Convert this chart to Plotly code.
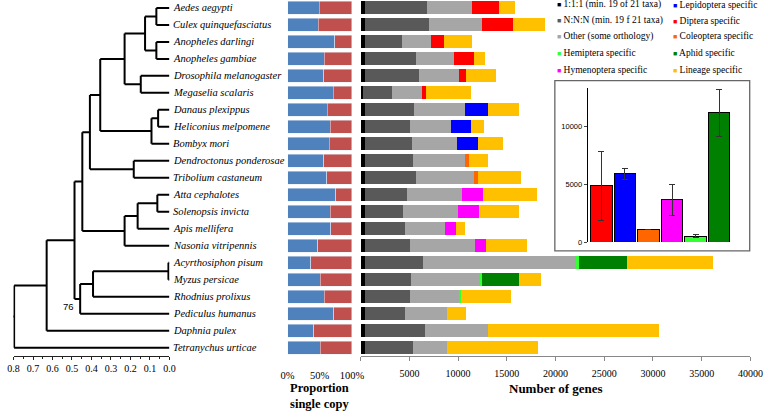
import plotly.graph_objects as go

W, H = 778, 413
def px(x): return x / W
def py(y): return 1 - y / H

species = ["Aedes aegypti", "Culex quinquefasciatus", "Anopheles darlingi", "Anopheles gambiae",
           "Drosophila melanogaster", "Megaselia scalaris", "Danaus plexippus", "Heliconius melpomene",
           "Bombyx mori", "Dendroctonus ponderosae", "Tribolium castaneum", "Atta cephalotes",
           "Solenopsis invicta", "Apis mellifera", "Nasonia vitripennis", "Acyrthosiphon pisum",
           "Myzus persicae", "Rhodnius prolixus", "Pediculus humanus", "Daphnia pulex",
           "Tetranychus urticae"]

# proportion single copy (blue part)
prop_single = [0.49, 0.48, 0.73, 0.57, 0.56, 0.71, 0.62, 0.66, 0.65, 0.56, 0.61,
               0.75, 0.66, 0.67, 0.47, 0.36, 0.51, 0.57, 0.72, 0.41, 0.51]

# gene counts per category
one2one    = [450, 450, 400, 450, 450, 230, 450, 450, 450, 450, 450, 450, 450, 450, 450, 450, 450, 450, 450, 450, 450]
nnn        = [6320, 6520, 3800, 5180, 5550, 2940, 5050, 4620, 4850, 4920, 5280, 4350, 3850, 4120, 4650, 5950, 4750, 4580, 4120, 6120, 4880]
other      = [4700, 5530, 3000, 3970, 4070, 3100, 5230, 4200, 4630, 5300, 5870, 5600, 5670, 4130, 6600, 15700, 7100, 5070, 4330, 6530, 3500]
lepidoptera= [0, 0, 0, 0, 0, 0, 2300, 2030, 2100, 0, 0, 0, 0, 0, 0, 0, 0, 0, 0, 0, 0]
diptera    = [2760, 3170, 1400, 2030, 760, 460, 0, 0, 0, 0, 0, 0, 0, 0, 0, 0, 0, 0, 0, 0, 0]
coleoptera = [0, 0, 0, 0, 0, 0, 0, 0, 0, 430, 400, 0, 0, 0, 0, 0, 0, 0, 0, 0, 0]
hymenoptera= [0, 0, 0, 0, 0, 0, 0, 0, 0, 0, 0, 2130, 2160, 1100, 1200, 0, 0, 0, 0, 0, 0]
hemiptera  = [0, 0, 0, 0, 0, 0, 0, 0, 0, 0, 0, 0, 0, 0, 0, 270, 170, 200, 0, 0, 0]
aphid      = [0, 0, 0, 0, 0, 0, 0, 0, 0, 0, 0, 0, 0, 0, 0, 4960, 3800, 0, 0, 0, 0]
lineage    = [1570, 3300, 2800, 1170, 3070, 4600, 3240, 1370, 2570, 1970, 4500, 5540, 4070, 870, 4170, 8870, 2260, 5100, 1870, 17500, 9370]

gene_ticks = [0, 5000, 10000, 15000, 20000, 25000, 30000, 35000, 40000]
tree_ticks = [0.8, 0.7, 0.6, 0.5, 0.4, 0.3, 0.2, 0.1, 0.0]
inset_ticks = [0, 5000, 10000]

# inset: mean and error of lineage-group specific genes
inset_groups = ["Diptera", "Lepidoptera", "Coleoptera", "Hymenoptera", "Hemiptera", "Aphid"]
inset_mean = [4850, 5900, 1085, 3650, 490, 11200]
inset_err  = [2970, 450, 0, 1350, 130, 2030]
inset_colors = ["#FF0000", "#0000FF", "#FF6600", "#FF00FF", "#33FF33", "#008000"]

# tree: internal nodes (name, height, children)
clades = [
    ("AeCu", 0.067, ["Aedes aegypti", "Culex quinquefasciatus"]),
    ("Anoph", 0.067, ["Anopheles darlingi", "Anopheles gambiae"]),
    ("Culicidae", 0.125, ["AeCu", "Anoph"]),
    ("DrMe", 0.147, ["Drosophila melanogaster", "Megaselia scalaris"]),
    ("Diptera", 0.23, ["Culicidae", "DrMe"]),
    ("DaHe", 0.058, ["Danaus plexippus", "Heliconius melpomene"]),
    ("Lepidoptera", 0.092, ["DaHe", "Bombyx mori"]),
    ("Antliophora", 0.355, ["Diptera", "Lepidoptera"]),
    ("Coleoptera", 0.183, ["Dendroctonus ponderosae", "Tribolium castaneum"]),
    ("DLC", 0.408, ["Antliophora", "Coleoptera"]),
    ("AtSo", 0.062, ["Atta cephalotes", "Solenopsis invicta"]),
    ("Apoidea", 0.163, ["AtSo", "Apis mellifera"]),
    ("Hymenoptera", 0.23, ["Apoidea", "Nasonia vitripennis"]),
    ("Holometabola", 0.447, ["DLC", "Hymenoptera"]),
    ("Aphid", 0.005, ["Acyrthosiphon pisum", "Myzus persicae"]),
    ("Hemiptera", 0.392, ["Aphid", "Rhodnius prolixus"]),
    ("Paraneoptera", 0.458, ["Hemiptera", "Pediculus humanus"]),
    ("Insecta", 0.487, ["Holometabola", "Paraneoptera"]),
    ("Pancrustacea", 0.63, ["Insecta", "Daphnia pulex"]),
    ("Root", 0.797, ["Pancrustacea", "Tetranychus urticae"]),
]
root_stub = 0.823
bootstrap = [("Paraneoptera", "76")]

# ---- compute tree geometry
pos = {s: (0.0, i) for i, s in enumerate(species)}
for name, h, ch in clades:
    ys = [pos[c][1] for c in ch]
    pos[name] = (h, (min(ys) + max(ys)) / 2)
tx, ty = [], []
for name, h, ch in clades:
    ys = [pos[c][1] for c in ch]
    tx += [h, h, None]; ty += [min(ys), max(ys), None]
    for c in ch:
        tx += [h, pos[c][0], None]; ty += [pos[c][1], pos[c][1], None]
rh, ry = pos["Root"]
tx += [rh, root_stub]; ty += [ry, ry]

fig = go.Figure()
fig.add_trace(go.Scatter(x=tx, y=ty, mode="lines", line=dict(color="black", width=2),
                         xaxis="x", yaxis="y", cliponaxis=False, hoverinfo="skip", showlegend=False))

idx = list(range(len(species)))
BW = 0.76
fig.add_trace(go.Bar(y=idx, x=prop_single, orientation="h", width=BW, marker_color="#4F81BD",
                     xaxis="x2", yaxis="y", showlegend=False, name="single copy"))
fig.add_trace(go.Bar(y=idx, x=[1 - p for p in prop_single], orientation="h", width=BW, marker_color="#C0504D",
                     xaxis="x2", yaxis="y", showlegend=False, name="multi copy"))

cats = [
    ("1:1:1 (min. 19 of 21 taxa)", one2one, "#000000"),
    ("N:N:N (min. 19 f 21 taxa)", nnn, "#595959"),
    ("Other (some orthology)", other, "#A6A6A6"),
    ("Lepidoptera specific", lepidoptera, "#0000FF"),
    ("Diptera specific", diptera, "#FF0000"),
    ("Coleoptera specific", coleoptera, "#FF6600"),
    ("Hymenoptera specific", hymenoptera, "#FF00FF"),
    ("Hemiptera specific", hemiptera, "#33FF33"),
    ("Aphid specific", aphid, "#008000"),
    ("Lineage specific", lineage, "#FFC000"),
]
for nm, vals, col in cats:
    fig.add_trace(go.Bar(y=idx, x=vals, orientation="h", width=BW, marker=dict(color=col, line=dict(width=0)),
                         xaxis="x3", yaxis="y", showlegend=False, name=nm))

fig.add_trace(go.Bar(x=inset_groups, y=inset_mean, width=0.91,
                     marker=dict(color=inset_colors, line=dict(color="black", width=1)),
                     error_y=dict(type="data", array=inset_err, color="#333333", thickness=1, width=3),
                     xaxis="x4", yaxis="y4", showlegend=False))

ydom = [py(360.6), 1]
fig.update_layout(
    width=W, height=H, margin=dict(l=0, r=0, t=0, b=0),
    paper_bgcolor="white", plot_bgcolor="rgba(0,0,0,0)",
    barmode="stack", showlegend=False,
    font=dict(family="Liberation Serif", color="black", size=10),
    yaxis=dict(domain=ydom, range=[20.5, -0.465], visible=False),
    xaxis=dict(domain=[px(6.7), px(166.7)], range=[0.8, 0.0], anchor="y",
               showline=True, linecolor="#222", linewidth=1, ticks="outside", ticklen=3, tickcolor="#222",
               tickvals=tree_ticks, ticktext=[f"{t:.1f}" for t in tree_ticks],
               minor=dict(dtick=0.05, ticks="outside", ticklen=2, tickcolor="#222"),
               showgrid=False, zeroline=False, tickfont=dict(size=10)),
    xaxis2=dict(domain=[px(288), px(354)], range=[0, 1], anchor="y",
                tickvals=[0, 0.5, 1], ticktext=["0%", "50%", "100%"], ticks="outside", ticklen=9,
                tickcolor="rgba(0,0,0,0)", showline=False, showgrid=False, zeroline=False,
                tickfont=dict(size=10.5)),
    xaxis3=dict(domain=[px(363), px(763)], range=[0, 40000], anchor="y",
                tickvals=gene_ticks, ticktext=[""] + [str(t) for t in gene_ticks[1:]],
                showline=True, linecolor="#888", linewidth=1, ticks="outside", ticklen=4, tickcolor="#888",
                ticklabelstandoff=4,
                showgrid=False, zeroline=False, tickfont=dict(size=10)),
    xaxis4=dict(domain=[px(596), px(743)], range=[-0.58, 5.5], anchor="y4", visible=False),
    yaxis4=dict(domain=[py(245), py(89)], range=[0, 13330], anchor="x4",
                showline=True, linecolor="black", linewidth=1, ticks="outside", ticklen=3,
                tickvals=inset_ticks, ticktext=[str(t) for t in inset_ticks],
                showgrid=False, zeroline=False,
                tickfont=dict(family="Liberation Sans", size=7.5)),
)

shapes = [dict(type="rect", xref="paper", yref="paper", x0=px(562.3), x1=px(762.3), y0=py(254), y1=py(81.7),
               line=dict(color="#666", width=1.3), fillcolor="rgba(0,0,0,0)")]
fig.update_layout(shapes=shapes)

ann = []
for s in species:
    ann.append(dict(x=0, y=pos[s][1], xref="x", yref="y", text=f"<i>{s}</i>", showarrow=False,
                    xanchor="left", yanchor="middle", xshift=2, font=dict(size=10.5)))
for node, lab in bootstrap:
    ann.append(dict(x=pos[node][0], y=pos[node][1], xref="x", yref="y", text=lab, showarrow=False,
                    xanchor="center", yanchor="middle", xshift=-12, yshift=-8,
                    font=dict(family="Liberation Sans", size=9.5)))
ann.append(dict(x=px(563), y=py(393), xref="paper", yref="paper", text="<b>Number of genes</b>",
                showarrow=False, xanchor="center", yanchor="middle", font=dict(size=13)))
ann.append(dict(x=px(321), y=py(400.5), xref="paper", yref="paper", text="<b>Proportion<br>single copy</b>",
                showarrow=False, xanchor="center", yanchor="middle", font=dict(size=12.5)))

legend_order = [0, 3, 1, 4, 2, 5, 7, 8, 6, 9]
for k, ci in enumerate(legend_order):
    nm, _, col = cats[ci]
    r, c = divmod(k, 2)
    xx = 562 if c == 0 else 682
    yy = [4.7, 21, 36.7, 53.3, 70.7][r]
    ann.append(dict(x=px(xx), y=py(yy), xref="paper", yref="paper", showarrow=False,
                    xanchor="left", yanchor="middle",
                    text=f"<span style='color:{col};font-size:7px'>■</span> {nm}", font=dict(size=9.5)))
fig.update_layout(annotations=ann)

fig.write_html("out.html", config={"displayModeBar": False},
               post_script="document.body.style.margin='0';")
